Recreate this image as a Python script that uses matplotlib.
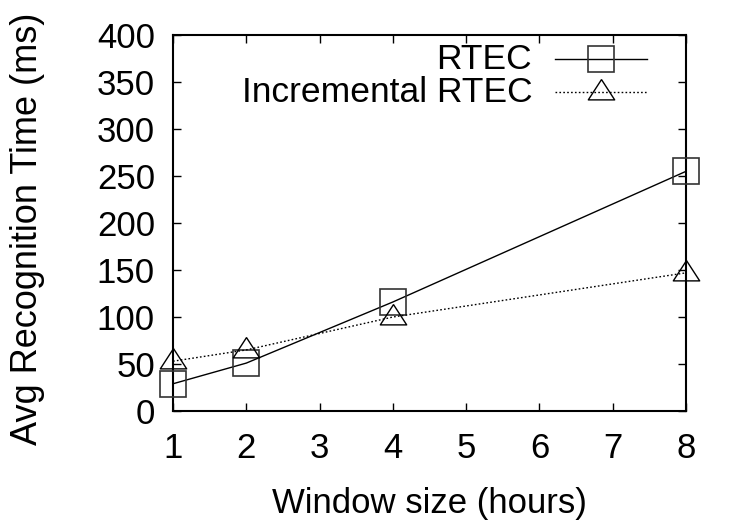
import matplotlib
matplotlib.use("Agg")
import matplotlib.pyplot as plt

plt.rcParams['font.family'] = ['Liberation Sans', 'DejaVu Sans']

# window sizes (hours)
windows = [1, 2, 4, 8]
# avg recognition time (ms)
rtec = [29, 51, 116, 255]
incremental = [53, 65, 100, 147]

x_ticks = [1, 2, 3, 4, 5, 6, 7, 8]
y_ticks = [0, 50, 100, 150, 200, 250, 300, 350, 400]

# gnuplot style triangle, point sits below the middle
tri = [(0, 0.98), (-1, -0.56), (1, -0.56), (0, 0.98)]

fig = plt.figure(figsize=(7.5, 5.25), dpi=100)
ax = fig.add_axes([0.2307, 0.2171, 0.684, 0.7162])

ax.plot(windows, rtec, color='black', lw=1, marker='s', ms=19,
        mfc='none', mec='#333333', mew=1.2, clip_on=False, zorder=3)
ax.plot(windows, incremental, color='black', lw=1, ls=(0, (1.2, 1.6)),
        marker=tri, ms=19, mfc='none', mec='black', mew=1.0,
        clip_on=False, zorder=3)

ax.set_xlim(1, 8)
ax.set_ylim(0, 400)
ax.set_xticks(x_ticks)
ax.set_yticks(y_ticks)

ax.tick_params(direction='in', length=6, width=1, top=True, right=True,
               labelsize=25)
ax.tick_params(axis='x', pad=15)
ax.tick_params(axis='y', pad=13)
for s in ax.spines.values():
    s.set_linewidth(1.5)

ax.set_xlabel('Window size (hours)', fontsize=25, labelpad=16)
ax.set_ylabel('Avg Recognition Time (ms)', fontsize=26)
ax.yaxis.set_label_coords(-0.249, 0.485)

# gnuplot style key: text right aligned, sample on the right
ax.text(0.700, 0.936, 'RTEC', transform=ax.transAxes, fontsize=25.5,
        ha='right', va='center')
ax.plot([0.745, 0.924], [0.936, 0.936], transform=ax.transAxes,
        color='black', lw=1, clip_on=False)
ax.plot([0.8345], [0.936], transform=ax.transAxes, marker='s', ms=19,
        mfc='none', mec='#333333', mew=1.2, clip_on=False)

ax.text(0.700, 0.848, 'Incremental RTEC', transform=ax.transAxes,
        fontsize=25.5, ha='right', va='center')
ax.plot([0.745, 0.924], [0.848, 0.848], transform=ax.transAxes,
        color='black', lw=1, ls=(0, (1.2, 1.6)), clip_on=False)
ax.plot([0.8345], [0.848], transform=ax.transAxes, marker=tri, ms=19,
        mfc='none', mec='black', mew=1.0, clip_on=False)

fig.savefig('out.png', dpi=100)
